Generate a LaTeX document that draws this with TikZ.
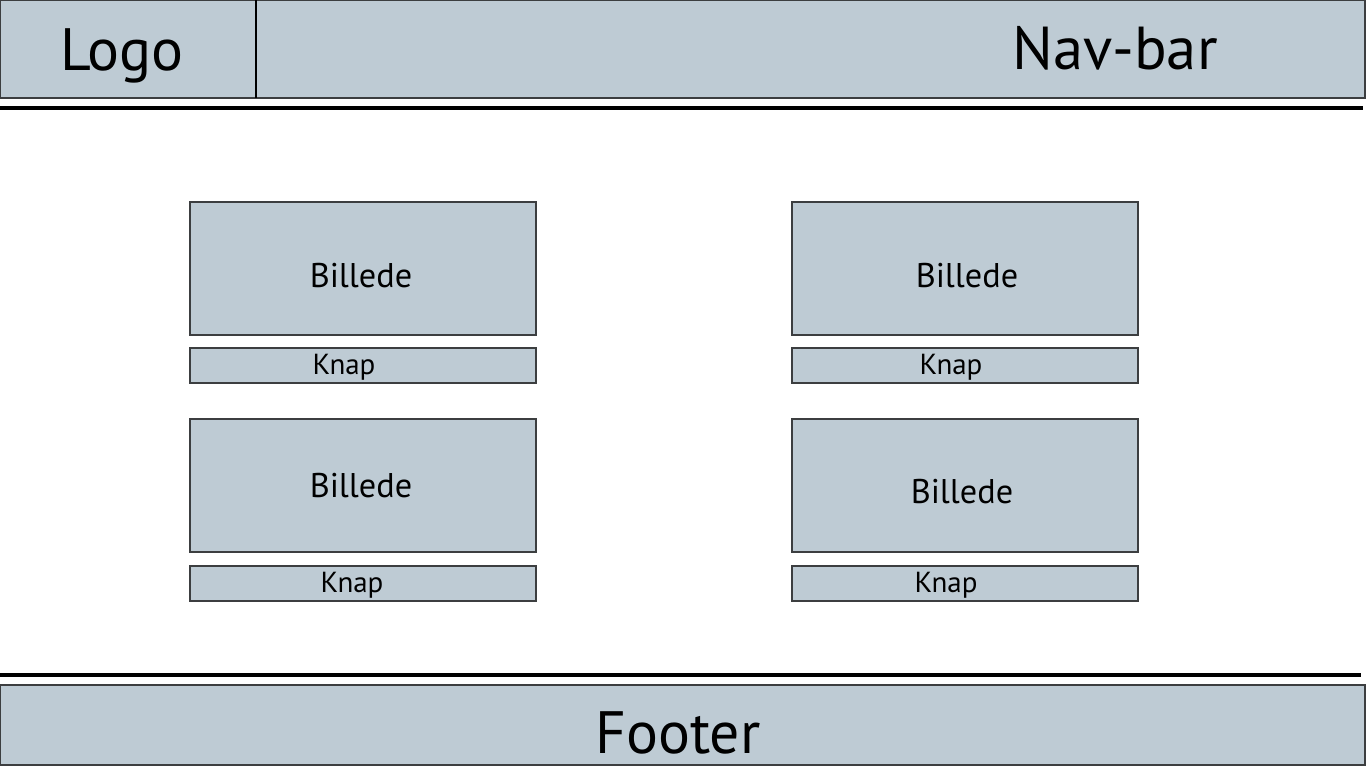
\documentclass[tikz,border=0pt]{standalone}
\usepackage{fontspec}
\setmainfont{PT Sans}
\usetikzlibrary{positioning}
\definecolor{wfill}{RGB}{190,203,212}
\definecolor{wline}{RGB}{60,62,64}
\tikzset{
  wbox/.style={rectangle, draw=wline, fill=wfill, line width=0.6pt, inner sep=0pt, outer sep=0pt},
  billbox/.style={wbox, minimum width=6.92cm, minimum height=2.66cm},
  knapbox/.style={wbox, minimum width=6.92cm, minimum height=0.70cm},
  bigtxt/.style={anchor=base, inner sep=0pt, font=\fontsize{34}{40}\selectfont},
  billtxt/.style={anchor=base, inner sep=0pt, font=\fontsize{19.5}{23}\selectfont},
  knaptxt/.style={anchor=base, inner sep=0pt, font=\fontsize{16.5}{19}\selectfont},
  sepline/.style={black, line width=2pt},
}

\begin{document}
\begin{tikzpicture}
  \useasboundingbox (0,0) rectangle (27.32,-15.36);
  % header
  \node[wbox, minimum width=5.12cm, minimum height=1.96cm] (logo) at (2.56,-0.98) {};
  \node[wbox, minimum width=22.18cm, minimum height=1.96cm] (nav) at (16.21,-0.98) {};
  \draw[black, line width=1.1pt] (logo.north east) -- (logo.south east);
  \node[bigtxt] (logot) at (2.44,-1.42) {Logo};
  \node[bigtxt, font=\fontsize{34.5}{40}\selectfont] (navt) at (22.30,-1.40) {Nav-bar};
  \draw[sepline] (0,-2.16) -- (27.26,-2.16);
  % billeder og knapper
  \node[billbox] (b1) at (7.26,-5.37) {};
  \node[knapbox] (k1) at (7.26,-7.31) {};
  \node[billbox] (b2) at (19.30,-5.37) {};
  \node[knapbox] (k2) at (19.30,-7.31) {};
  \node[billbox] (b3) at (7.26,-9.71) {};
  \node[knapbox] (k3) at (7.26,-11.67) {};
  \node[billbox] (b4) at (19.30,-9.71) {};
  \node[knapbox] (k4) at (19.30,-11.67) {};
  \node[billtxt] (b1t) at (7.22,-5.76) {Billede};
  \node[billtxt] (b2t) at (19.34,-5.76) {Billede};
  \node[billtxt] (b3t) at (7.22,-9.94) {Billede};
  \node[billtxt] (b4t) at (19.24,-10.06) {Billede};
  \node[knaptxt] (k1t) at (6.88,-7.49) {Knap};
  \node[knaptxt] (k2t) at (19.02,-7.49) {Knap};
  \node[knaptxt] (k3t) at (7.04,-11.85) {Knap};
  \node[knaptxt] (k4t) at (18.92,-11.85) {Knap};
  % footer
  \draw[sepline] (0,-13.50) -- (27.22,-13.50);
  \node[wbox, minimum width=27.30cm, minimum height=1.60cm] (foot) at (13.65,-14.50) {};
  \node[bigtxt] (foott) at (13.56,-15.06) {Footer};
\end{tikzpicture}
\end{document}
